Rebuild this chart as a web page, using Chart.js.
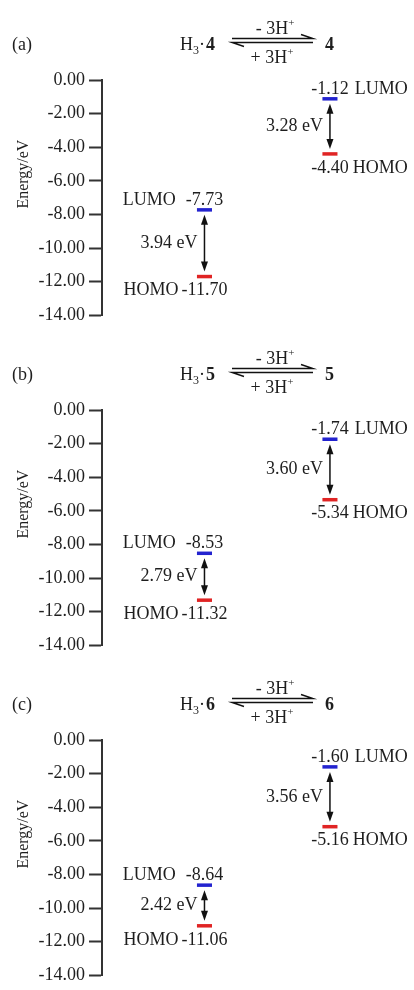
<!DOCTYPE html>
<html>
<head>
<meta charset="utf-8">
<script src="https://cdn.jsdelivr.net/npm/chart.js@4/dist/chart.umd.min.js"></script>
<style>
  html, body { margin: 0; padding: 0; background: #ffffff; }
  #wrap { position: relative; width: 414px; height: 990px; overflow: hidden; }
  canvas { position: absolute; left: 0; }
</style>
</head>
<body>
<div id="wrap">
  <canvas id="c0" width="414" height="330" style="top:0px"></canvas>
  <canvas id="c1" width="414" height="330" style="top:330px"></canvas>
  <canvas id="c2" width="414" height="330" style="top:660px"></canvas>
</div>
<script>
// ---- data ----
const panelLabels = ['(a)', '(b)', '(c)'];
const compounds = ['4', '5', '6'];
const lumoProtonated = [-7.73, -8.53, -8.64];   // H3·n
const homoProtonated = [-11.70, -11.32, -11.06];
const gapProtonated = [3.94, 2.79, 2.42];
const lumoNeutral = [-1.12, -1.74, -1.60];      // n
const homoNeutral = [-4.40, -5.34, -5.16];
const gapNeutral = [3.28, 3.60, 3.56];
const yTickValues = [0, -2, -4, -6, -8, -10, -12, -14];
const yAxisTitle = 'Energy/eV';
const reagentTop = '- 3H';
const reagentBottom = '+ 3H';

// ---- styles ----
const FONT = '"Liberation Serif", "Times New Roman", serif';
const TEXT = '#1e1e1e';
const AXIS = '#333333';
const BLUE = '#2323cf';
const RED = '#e02424';
const HALF_W = 0.06; // half width of a level bar in x-scale units

function levelDataset(col, val, color) {
  return {
    data: [{ x: col - HALF_W, y: val }, { x: col + HALF_W, y: val }],
    borderColor: color, backgroundColor: color, borderWidth: 3.5,
    pointRadius: 0, borderCapStyle: 'butt', fill: false, clip: false, tension: 0
  };
}

function drawArrowV(ctx, x, y1, y2) {
  const head = 10, hw = 3.5;
  ctx.save();
  ctx.strokeStyle = '#111'; ctx.fillStyle = '#111'; ctx.lineWidth = 1.5;
  ctx.beginPath(); ctx.moveTo(x, y1 + head - 2); ctx.lineTo(x, y2 - head + 2); ctx.stroke();
  ctx.beginPath(); ctx.moveTo(x, y1); ctx.lineTo(x - hw, y1 + head); ctx.lineTo(x + hw, y1 + head); ctx.closePath(); ctx.fill();
  ctx.beginPath(); ctx.moveTo(x, y2); ctx.lineTo(x - hw, y2 - head); ctx.lineTo(x + hw, y2 - head); ctx.closePath(); ctx.fill();
  ctx.restore();
}

function drawHeader(ctx, i) {
  const yMid = 44;
  ctx.save();
  ctx.fillStyle = TEXT;
  ctx.textBaseline = 'alphabetic';
  const base = yMid + 6;
  // panel label
  ctx.font = '18px ' + FONT; ctx.textAlign = 'left';
  ctx.fillText(panelLabels[i], 12, base);
  // H3·n
  let x = 180;
  ctx.font = '18px ' + FONT; ctx.fillText('H', x, base); x += ctx.measureText('H').width;
  ctx.font = '12px ' + FONT; ctx.fillText('3', x, base + 4); x += ctx.measureText('3').width;
  ctx.font = '18px ' + FONT; ctx.fillText('\u00B7', x, base); x += ctx.measureText('\u00B7').width;
  ctx.font = 'bold 18px ' + FONT; ctx.fillText(compounds[i], x + 1, base);
  // product
  ctx.fillText(compounds[i], 325, base);
  // equilibrium harpoons
  ctx.strokeStyle = '#111'; ctx.lineWidth = 1.4;
  const x1 = 232, x2 = 313, yt = yMid - 5.5, yb = yMid - 1.5;
  ctx.beginPath(); ctx.moveTo(x1, yt); ctx.lineTo(x2, yt); ctx.lineTo(x2 - 12, yt - 4); ctx.stroke();
  ctx.beginPath(); ctx.moveTo(x2, yb); ctx.lineTo(x1, yb); ctx.lineTo(x1 + 12, yb + 4); ctx.stroke();
  // reagents with superscript +
  function reagent(txt, cx, baseline) {
    ctx.font = '18px ' + FONT;
    const w1 = ctx.measureText(txt).width;
    ctx.font = '11px ' + FONT;
    const w2 = ctx.measureText('+').width;
    const left = cx - (w1 + w2) / 2;
    ctx.textAlign = 'left';
    ctx.font = '18px ' + FONT; ctx.fillText(txt, left, baseline);
    ctx.font = '11px ' + FONT; ctx.fillText('+', left + w1, baseline - 8);
  }
  reagent(reagentTop, 275, 34);
  reagent(reagentBottom, 272, 63);
  ctx.restore();
}

function makeChart(i) {
  const cols = [
    { x: 1, lumo: lumoProtonated[i], homo: homoProtonated[i], gap: gapProtonated[i], side: 'left' },
    { x: 2, lumo: lumoNeutral[i], homo: homoNeutral[i], gap: gapNeutral[i], side: 'right' }
  ];
  const annotations = {
    id: 'annotations' + i,
    afterDraw(chart) {
      const ctx = chart.ctx, xs = chart.scales.x, ys = chart.scales.y;
      drawHeader(ctx, i);
      // y-axis title
      ctx.save();
      ctx.fillStyle = TEXT; ctx.font = '16px ' + FONT;
      ctx.translate(24, ys.getPixelForValue(-5.6));
      ctx.rotate(-Math.PI / 2);
      ctx.textAlign = 'center'; ctx.textBaseline = 'middle';
      ctx.fillText(yAxisTitle, 0, 0);
      ctx.restore();
      cols.forEach(c => {
        const px = xs.getPixelForValue(c.x);
        const yl = ys.getPixelForValue(c.lumo);
        const yh = ys.getPixelForValue(c.homo);
        drawArrowV(ctx, px, yl + 5, yh - 5);
        ctx.save();
        ctx.fillStyle = TEXT; ctx.font = '18px ' + FONT; ctx.textBaseline = 'middle';
        ctx.textAlign = 'right';
        ctx.fillText(c.gap.toFixed(2) + ' eV', px - 7, (yl + yh) / 2);
        const ls = c.lumo.toFixed(2), hs = c.homo.toFixed(2);
        const lw = ctx.measureText(ls).width, hw = ctx.measureText(hs).width;
        ctx.textAlign = 'center';
        ctx.fillText(ls, px, yl - 10);
        ctx.fillText(hs, px, yh + 14);
        if (c.side === 'left') {
          ctx.textAlign = 'right';
          ctx.fillText('LUMO', px - lw / 2 - 10, yl - 10);
          ctx.fillText('HOMO', px - hw / 2 - 3, yh + 14);
        } else {
          ctx.textAlign = 'left';
          ctx.fillText('LUMO', px + lw / 2 + 6, yl - 10);
          ctx.fillText('HOMO', px + hw / 2 + 4, yh + 14);
        }
        ctx.restore();
      });
    }
  };
  return new Chart(document.getElementById('c' + i), {
    type: 'line',
    data: {
      datasets: [
        levelDataset(1, lumoProtonated[i], BLUE),
        levelDataset(1, homoProtonated[i], RED),
        levelDataset(2, lumoNeutral[i], BLUE),
        levelDataset(2, homoNeutral[i], RED)
      ]
    },
    options: {
      responsive: false,
      animation: false,
      devicePixelRatio: 1,
      layout: { padding: { top: 80, right: 4, bottom: 8, left: 0 } },
      plugins: { legend: { display: false }, tooltip: { enabled: false }, title: { display: false } },
      events: [],
      scales: {
        x: { type: 'linear', min: 0.1833, max: 2.638, display: false },
        y: {
          type: 'linear', min: -14, max: 0,
          afterBuildTicks(scale) { scale.ticks = yTickValues.map(v => ({ value: v })); },
          afterFit(scale) { scale.width = 102; },
          ticks: {
            callback: v => Number(v).toFixed(2),
            font: { family: FONT, size: 18 },
            color: TEXT, padding: 4
          },
          grid: { drawOnChartArea: false, drawTicks: true, tickLength: 13, tickWidth: 2, tickColor: AXIS },
          border: { display: true, color: AXIS, width: 2 }
        }
      }
    },
    plugins: [annotations]
  });
}

[0, 1, 2].forEach(makeChart);
</script>
</body>
</html>
